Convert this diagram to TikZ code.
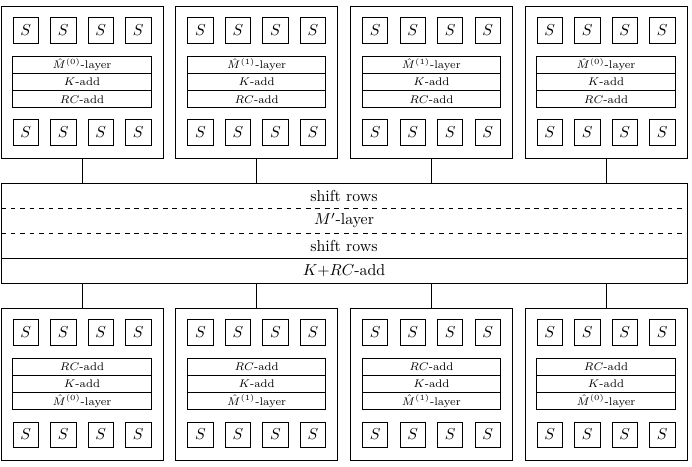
\documentclass[tikz,border=0pt]{standalone}
\usepackage{amsmath,amssymb}
\usepackage{tikz}
\usetikzlibrary{positioning}

\begin{document}
\begin{tikzpicture}[
  x=0.63pt, y=-0.63pt,
  every node/.style={inner sep=0pt, outer sep=0pt},
  blk/.style={draw, thin, minimum width=102pt, minimum height=95.8pt},
  sbox/.style={draw, thin, minimum size=16pt},
  layer/.style={draw, semithick, minimum width=87pt, minimum height=10.9pt, font=\scriptsize},
  row/.style={minimum width=432.2pt, minimum height=15.75pt},
]
\useasboundingbox (0,0) rectangle (692,466);

  % Top blocks
  \foreach \i/\m in {0/0,1/1,2/1,3/0} {
    \node[blk] (top\i) at ({82+174.67*\i},82) {};
    \foreach \j in {0,...,3} {
      \node[sbox] (ts\i\j) at ({25.75+174.67*\i+37.5*\j},30.5) {$S$};
      \node[sbox] (tb\i\j) at ({25.75+174.67*\i+37.5*\j},132.5) {$S$};
    }
    \node[layer] (tk\i) at (top\i) {$K$-add};
    \node[layer, above=0pt of tk\i] (tm\i) {$\hat{M}^{(\m)}$-layer};
    \node[layer, below=0pt of tk\i] (tr\i) {$RC$-add};
  }

  % Middle band
  \node[row] (sr1) at (344,195.5) {shift rows};
  \node[row] (mp)  at (344,220.5) {$M'$-layer};
  \node[row] (sr2) at (344,245.5) {shift rows};
  \node[row] (krc) at (344,270.5) {$K{+}RC$-add};
  \draw[thin] (sr1.north west) rectangle (krc.south east);
  \draw[dashed] (sr1.south west) -- (sr1.south east);
  \draw[dashed] (mp.south west) -- (mp.south east);
  \draw[semithick] (sr2.south west) -- (sr2.south east);

  % Bottom blocks
  \foreach \i/\m in {0/0,1/1,2/1,3/0} {
    \node[blk] (bot\i) at ({82+174.67*\i},384) {};
    \foreach \j in {0,...,3} {
      \node[sbox] (bs\i\j) at ({25.75+174.67*\i+37.5*\j},332.5) {$S$};
      \node[sbox] (bb\i\j) at ({25.75+174.67*\i+37.5*\j},434.5) {$S$};
    }
    \node[layer] (bk\i) at (bot\i) {$K$-add};
    \node[layer, above=0pt of bk\i] (br\i) {$RC$-add};
    \node[layer, below=0pt of bk\i] (bm\i) {$\hat{M}^{(\m)}$-layer};
  }

  % Edges
  \foreach \i in {0,...,3} {
    \draw (top\i.south) -- (top\i.south |- sr1.north);
    \draw (krc.south -| bot\i.north) -- (bot\i.north);
  }
\end{tikzpicture}
\end{document}
